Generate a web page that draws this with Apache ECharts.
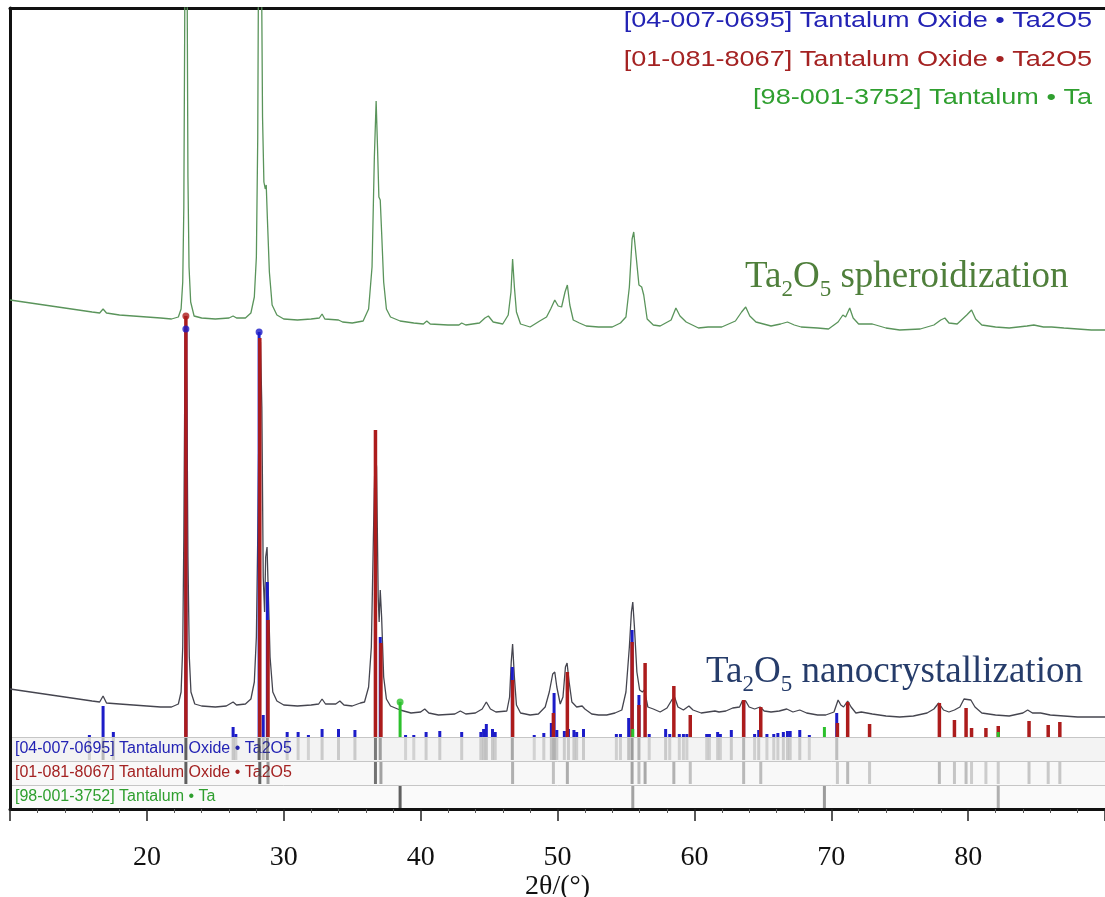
<!DOCTYPE html>
<html>
<head>
<meta charset="utf-8">
<title>XRD Ta2O5</title>
<script src="https://cdn.jsdelivr.net/npm/echarts@6/dist/echarts.min.js"></script>
<style>
html, body { margin: 0; padding: 0; background: #fff; }
#chart { width: 1105px; height: 897px; }
</style>
</head>
<body>
<div id="chart"></div>
<script>
// 2theta range and ticks
var xMin = 10, xMax = 90, xStep = 10;
var intensityMax = 729; // a.u., top of the plot frame

// reference cards (blue, red, green)
var phaseNames = [
	'[04-007-0695] Tantalum Oxide \u2022 Ta2O5',
	'[01-081-8067] Tantalum Oxide \u2022 Ta2O5',
	'[98-001-3752] Tantalum \u2022 Ta'
];
var phaseColors = [ '#1c1cc8', '#ac1c1c', '#2cc02c' ];
var phaseTextColors = [ '#2323b4', '#a42222', '#2f9f2f' ];

// measured pattern, spheroidized powder [2theta, intensity]
var spheroidPattern = [
	[10.0,437],[11.0,435],[12.0,433],[13.0,431],[14.0,429],[15.0,427],[16.0,425],[16.55,424],[16.8,428],[17.05,424],
	[18.0,422],[19.0,421],[20.0,420],[21.0,419],[21.8,418],[22.3,420],[22.5,428],[22.62,455],[22.7,530],[22.76,700],
	[22.82,900],[22.88,950],[22.94,760],[23.0,560],[23.08,470],[23.2,435],[23.45,421],[24.0,419],[25.0,418],[26.0,419],
	[26.3,421],[26.55,419],[27.2,419],[27.6,424],[27.85,440],[28.0,480],[28.1,600],[28.18,850],[28.27,950],[28.36,800],
	[28.45,620],[28.55,555],[28.65,548],[28.72,552],[28.8,520],[28.95,465],[29.15,432],[29.5,422],[30.0,418],[31.0,417],
	[32.0,418],[32.6,419],[32.8,423],[33.0,418],[34.0,417],[34.3,415],[35.0,414],[35.8,416],[36.2,428],[36.45,470],
	[36.62,580],[36.75,636],[36.85,590],[36.95,540],[37.05,537],[37.15,505],[37.3,455],[37.5,428],[37.8,420],[38.5,416],
	[39.5,414],[40.2,413],[40.45,416],[40.7,413],[42.0,412],[42.8,412],[43.0,414],[43.3,412],[44.3,414],[44.7,419],
	[44.95,421],[45.3,415],[46.0,413],[46.4,422],[46.6,445],[46.72,478],[46.85,450],[47.0,425],[47.3,413],[48.0,410],
	[48.7,416],[49.2,420],[49.5,428],[49.8,437],[50.05,431],[50.3,430],[50.55,445],[50.72,452],[50.9,432],[51.15,417],
	[51.6,414],[52.1,411],[53.0,410],[54.0,410],[54.6,414],[55.0,420],[55.25,450],[55.45,498],[55.57,505],[55.75,480],
	[55.95,452],[56.15,450],[56.3,442],[56.55,418],[57.0,412],[57.5,411],[58.3,417],[58.65,429],[58.95,421],[59.4,415],
	[60.3,409],[61.0,410],[62.0,410],[63.0,416],[63.45,425],[63.75,430],[64.05,421],[64.5,415],[65.6,411],[66.3,413],
	[66.8,415],[67.3,412],[67.8,410],[69.0,409],[69.8,408],[70.5,415],[70.85,422],[71.05,420],[71.35,429],[71.6,419],
	[72.0,413],[73.0,413],[74.0,409],[75.0,407],[76.5,408],[77.5,412],[78.0,417],[78.3,419],[78.6,414],[79.2,413],
	[79.9,422],[80.25,427],[80.55,418],[81.0,412],[82.0,410],[83.0,409],[84.3,411],[84.8,412],[85.5,410],[86.1,410],
	[87.0,409],[88.0,408],[89.0,407],[90.0,407]
];

// measured pattern, nanocrystallized powder [2theta, intensity]
var nanoPattern = [
	[10.0,48],[11.0,46],[12.0,44],[13.0,42],[14.0,40],[15.0,38],[16.0,36],[16.55,35],[16.8,41],[17.05,34],
	[18.0,33],[19.0,32],[20.0,31],[21.0,30],[21.8,30],[22.3,33],[22.5,45],[22.62,90],[22.7,200],[22.77,350],
	[22.85,415],[22.93,330],[23.0,180],[23.1,80],[23.22,45],[23.5,33],[24.0,31],[25.0,30],[25.8,31],[26.3,35],
	[26.55,32],[27.2,33],[27.6,38],[27.85,55],[28.0,100],[28.1,200],[28.2,330],[28.3,395],[28.4,330],[28.5,160],
	[28.6,125],[28.68,180],[28.78,190],[28.88,140],[29.0,80],[29.2,45],[29.5,36],[30.0,32],[31.0,31],[32.0,32],
	[32.55,33],[32.8,38],[33.05,33],[33.8,33],[34.1,36],[34.4,32],[35.0,31],[35.6,34],[35.9,35],[36.2,50],
	[36.4,90],[36.55,200],[36.68,290],[36.78,270],[36.9,140],[36.97,115],[37.05,147],[37.15,120],[37.3,60],[37.5,38],
	[37.8,31],[38.5,27],[39.3,24],[40.0,25],[40.3,28],[40.6,24],[41.3,22],[42.5,23],[42.9,26],[43.3,23],
	[44.0,24],[44.5,28],[44.8,35],[45.1,28],[45.5,25],[46.3,26],[46.5,40],[46.62,75],[46.72,93],[46.85,60],
	[47.0,32],[47.3,24],[48.0,22],[48.6,23],[49.1,30],[49.4,45],[49.65,63],[49.8,65],[49.95,50],[50.2,33],
	[50.4,40],[50.58,70],[50.7,74],[50.85,55],[51.05,35],[51.4,30],[51.8,31],[52.0,28],[52.5,23],[53.0,22],
	[53.6,22],[54.2,24],[54.7,27],[55.0,45],[55.25,90],[55.4,125],[55.5,135],[55.62,110],[55.8,65],[56.0,47],
	[56.2,45],[56.35,47],[56.6,30],[57.0,28],[57.5,25],[58.0,29],[58.35,37],[58.55,40],[58.8,30],[59.2,27],
	[59.6,31],[59.9,27],[60.5,24],[61.0,25],[61.5,26],[61.8,25],[62.3,26],[62.8,29],[63.3,30],[63.5,36],
	[63.75,36],[64.0,30],[64.4,28],[64.8,30],[65.1,26],[65.6,25],[66.2,26],[66.75,28],[67.2,25],[67.7,27],
	[68.2,24],[69.0,22],[69.6,22],[70.2,25],[70.5,37],[70.7,32],[70.9,30],[71.2,36],[71.45,30],[71.8,24],
	[72.2,25],[73.0,23],[74.0,21],[75.0,20],[76.0,21],[77.0,24],[77.5,28],[77.85,34],[78.2,27],[78.6,25],
	[79.0,27],[79.4,30],[79.7,38],[80.2,37],[80.5,30],[81.0,24],[82.0,22],[83.0,21],[84.0,24],[84.35,27],
	[84.7,24],[85.3,24],[86.0,22],[87.0,21],[88.0,20],[89.0,20],[90.0,20]
];

// reference sticks [2theta, intensity]
var sticksBlue = [
	[15.8,2],[16.8,31],[17.55,5],[22.85,408],[26.3,10],[26.5,3],[28.2,405],[28.5,22],[28.8,155],[30.25,5],
	[31.05,5],[31.8,2],[32.8,8],[34.0,8],[35.2,7],[36.7,249],[37.05,100],[38.9,2],[39.5,2],[40.4,5],
	[41.4,6],[43.0,5],[44.4,5],[44.6,8],[44.8,13],[45.25,8],[45.45,5],[46.7,70],[48.3,2],[49.0,4],
	[49.55,14],[49.75,44],[49.95,7],[50.5,6],[50.8,8],[51.2,7],[51.4,5],[51.9,8],[54.3,3],[54.6,3],
	[55.2,19],[55.45,107],[55.95,42],[56.7,3],[57.9,8],[58.2,3],[58.9,3],[59.2,3],[59.45,3],[60.9,3],
	[61.1,3],[61.7,5],[61.9,3],[62.7,7],[63.6,35],[64.4,3],[64.7,7],[65.3,3],[65.8,3],[66.1,4],
	[66.5,5],[66.8,6],[67.0,6],[67.7,7],[68.4,2],[70.4,24]
];
var sticksRed = [
	[22.85,421],[28.25,399],[28.85,117],[36.7,307],[37.1,94],[46.72,57],[49.7,24],[50.72,65],[55.45,95],[55.95,32],
	[56.4,74],[58.5,51],[59.7,22],[63.6,37],[64.85,30],[70.45,14],[71.2,35],[72.8,13],[77.9,34],[79.0,17],
	[79.85,29],[80.25,9],[81.3,9],[82.2,11],[84.45,16],[85.85,12],[86.7,15]
];
var sticksGreen = [ [38.5,35],[55.5,8],[69.5,10],[82.2,5] ];

var allSticks = [ sticksBlue, sticksRed, sticksGreen ];

function maxOf(sticks) {
	var m = 0;
	for (var i = 0; i < sticks.length; i++) m = Math.max(m, sticks[i][1]);
	return m;
}

function stickRenderer(color, w) {
	return function(params, api) {
		var base = api.coord([ api.value(0), 0 ]);
		var top = api.coord([ api.value(0), api.value(1) ]);
		return {
			type : 'rect',
			shape : { x : base[0] - w / 2, y : top[1], width : w, height : base[1] - top[1] },
			style : { fill : color }
		};
	};
}

function stripRenderer(params, api) {
	var p = api.coord([ api.value(0), api.value(1) ]);
	var band = api.size([ 0, 1 ])[1];
	var a = 0.14 + 0.72 * Math.sqrt(api.value(2));
	return {
		type : 'rect',
		shape : { x : p[0] - 1.5, y : p[1] - band / 2 + 1, width : 3, height : band - 2 },
		style : { fill : 'rgba(70,70,70,' + a.toFixed(3) + ')' }
	};
}

// strip rows and top markers built from the stick lists
var stripData = [];
var dotSeries = [];
allSticks.forEach(function(sticks, row) {
	var m = maxOf(sticks);
	sticks.forEach(function(s) { stripData.push([ s[0], row, s[1] / m ]); });
	dotSeries.push({
		type : 'scatter', xAxisIndex : 0, yAxisIndex : 0, z : 6 - row,
		symbol : 'circle', symbolSize : 7,
		itemStyle : { color : phaseColors[row] },
		data : sticks.filter(function(s) { return s[1] >= 0.97 * m; })
	});
});

var myChart = echarts.init(document.getElementById('chart'));
var serif = '"Liberation Serif", "Times New Roman", serif';
var sans = '"Liberation Sans", Arial, sans-serif';

var option = {
	animation : false,
	backgroundColor : '#fff',
	grid : [
		{ left : 10, right : 0, top : 8, height : 729, outerBoundsMode : 'none' },
		{ left : 10, right : 0, top : 737, height : 72, outerBoundsMode : 'none' }
	],
	xAxis : [ {
		gridIndex : 0, type : 'value', min : xMin, max : xMax, interval : xStep, position : 'top',
		axisLine : { show : true, onZero : false, lineStyle : { color : '#111', width : 3 } },
		axisTick : { show : false }, axisLabel : { show : false }, splitLine : { show : false }
	}, {
		gridIndex : 1, type : 'value', min : xMin, max : xMax, interval : xStep,
		name : '2\u03b8/(\u00b0)', nameLocation : 'middle', nameGap : 63,
		nameTextStyle : { fontFamily : serif, fontSize : 28, color : '#111' },
		axisLine : { show : true, onZero : false, lineStyle : { color : '#111', width : 3 } },
		axisTick : { show : true, length : 12, lineStyle : { color : '#222', width : 1.5 } },
		minorTick : { show : true, splitNumber : 5, length : 4, lineStyle : { color : '#555', width : 1 } },
		axisLabel : { fontFamily : serif, fontSize : 28, color : '#111', margin : 35, showMinLabel : false, showMaxLabel : false },
		splitLine : { show : false }
	} ],
	yAxis : [ {
		gridIndex : 0, type : 'value', min : 0, max : intensityMax,
		axisLine : { show : true, onZero : false, lineStyle : { color : '#111', width : 3 } },
		axisTick : { show : false }, axisLabel : { show : false }, splitLine : { show : false }
	}, {
		gridIndex : 1, type : 'category', inverse : true, data : phaseNames,
		axisLine : { show : true, onZero : false, lineStyle : { color : '#111', width : 3 } },
		axisTick : { show : false },
		axisLabel : {
			inside : true, margin : 5,
			formatter : function(v, i) { return '{c' + i + '|' + v + '}'; },
			rich : {
				c0 : { color : phaseTextColors[0], fontFamily : sans, fontSize : 16 },
				c1 : { color : phaseTextColors[1], fontFamily : sans, fontSize : 16 },
				c2 : { color : phaseTextColors[2], fontFamily : sans, fontSize : 16 }
			}
		},
		splitLine : { show : true, lineStyle : { color : '#c6c6c6', width : 1 } },
		splitArea : { show : true, areaStyle : { color : [ '#f3f3f3', '#f8f8f8', '#fafafa' ] } }
	} ],
	graphic : [ 0, 1, 2 ].map(function(i) {
		return {
			type : 'text', x : 1092, y : 21 + i * 38.5, scaleX : 1.23, z : 10,
			style : {
				text : phaseNames[i], align : 'right', verticalAlign : 'middle',
				font : '22px ' + sans, fill : phaseTextColors[i]
			}
		};
	}).concat([ {
		type : 'text', left : 745, top : 259, z : 10,
		style : {
			text : '{n|Ta}{s|2}{n|O}{s|5}{n| spheroidization}',
			rich : {
				n : { fontFamily : serif, fontSize : 37, lineHeight : 48, fill : '#4f7f3b' },
				s : { fontFamily : serif, fontSize : 23, lineHeight : 23, verticalAlign : 'bottom', fill : '#4f7f3b' }
			}
		}
	}, {
		type : 'text', left : 706, top : 654, z : 10,
		style : {
			text : '{n|Ta}{s|2}{n|O}{s|5}{n| nanocrystallization}',
			rich : {
				n : { fontFamily : serif, fontSize : 37, lineHeight : 48, fill : '#263c6a' },
				s : { fontFamily : serif, fontSize : 23, lineHeight : 23, verticalAlign : 'bottom', fill : '#263c6a' }
			}
		}
	} ]),
	series : [ {
		name : 'spheroidization', type : 'line', xAxisIndex : 0, yAxisIndex : 0, z : 2,
		showSymbol : false, clip : true,
		lineStyle : { color : '#5a945b', width : 1.3 },
		data : spheroidPattern
	}, {
		name : 'nanocrystallization', type : 'line', xAxisIndex : 0, yAxisIndex : 0, z : 2,
		showSymbol : false, clip : true,
		lineStyle : { color : '#45454f', width : 1.3 },
		data : nanoPattern
	}, {
		type : 'custom', xAxisIndex : 0, yAxisIndex : 0, z : 3, clip : true,
		renderItem : stickRenderer(phaseColors[0], 3), data : sticksBlue
	}, {
		type : 'custom', xAxisIndex : 0, yAxisIndex : 0, z : 4, clip : true,
		renderItem : stickRenderer(phaseColors[1], 3.5), data : sticksRed
	}, {
		type : 'custom', xAxisIndex : 0, yAxisIndex : 0, z : 5, clip : true,
		renderItem : stickRenderer(phaseColors[2], 3), data : sticksGreen
	}, {
		type : 'custom', xAxisIndex : 1, yAxisIndex : 1, z : 3, clip : true,
		renderItem : stripRenderer, data : stripData
	} ].concat(dotSeries)
};

myChart.setOption(option);
</script>
</body>
</html>
